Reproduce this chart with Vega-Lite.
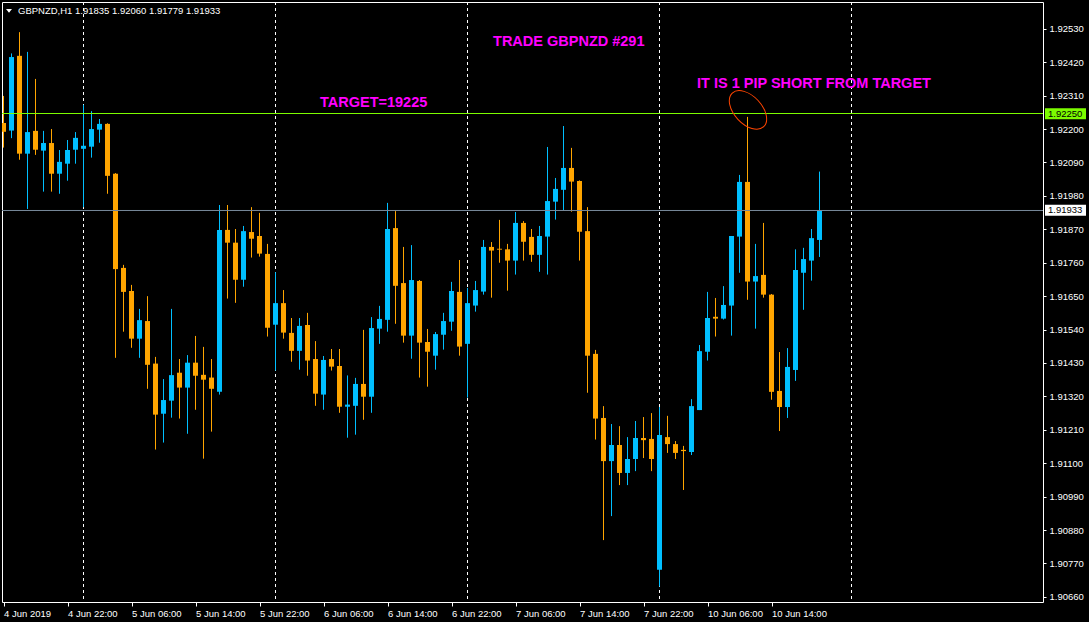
{
  "$schema": "https://vega.github.io/schema/vega-lite/v6.json",
  "width": 1041,
  "height": 600,
  "autosize": {"type": "none"},
  "padding": {"left": 2, "top": 2, "right": 46, "bottom": 20},
  "background": "#000000",
  "config": {
    "view": {"stroke": "#FFFFFF", "strokeWidth": 1, "fill": "#000000"},
    "axisX": {
      "domain": false, "grid": false, "ticks": true,
      "tickColor": "#FFFFFF", "tickSize": 4, "tickWidth": 1,
      "labelColor": "#FFFFFF", "labelFont": "Liberation Sans", "labelFontSize": 9.5,
      "labelAlign": "left", "labelBaseline": "top", "labelPadding": 2,
      "labelOverlap": false, "labelBound": false, "labelFlush": false
    },
    "axisY": {
      "domain": false, "grid": false, "ticks": true,
      "tickColor": "#FFFFFF", "tickSize": 3, "tickWidth": 1,
      "labelColor": "#FFFFFF", "labelFont": "Liberation Sans", "labelFontSize": 9.5,
      "labelPadding": 3, "labelBaseline": "middle", "labelAlign": "left",
      "labelOverlap": false, "labelBound": false, "labelFlush": false
    }
  },
  "datasets": {
    "candles": [
      {"i":0,"o":1.92220,"h":1.92309,"l":1.92139,"c":1.92191},
      {"i":1,"o":1.92195,"h":1.92449,"l":1.92170,"c":1.92437},
      {"i":2,"o":1.92441,"h":1.92519,"l":1.92099,"c":1.92119},
      {"i":3,"o":1.92119,"h":1.92454,"l":1.91937,"c":1.92190},
      {"i":4,"o":1.92194,"h":1.92365,"l":1.92115,"c":1.92132},
      {"i":5,"o":1.92129,"h":1.92194,"l":1.91994,"c":1.92154},
      {"i":6,"o":1.92154,"h":1.92200,"l":1.91994,"c":1.92053},
      {"i":7,"o":1.92053,"h":1.92131,"l":1.91987,"c":1.92092},
      {"i":8,"o":1.92086,"h":1.92164,"l":1.92030,"c":1.92131},
      {"i":9,"o":1.92132,"h":1.92190,"l":1.92086,"c":1.92171},
      {"i":10,"o":1.92135,"h":1.92280,"l":1.91943,"c":1.92145},
      {"i":11,"o":1.92142,"h":1.92259,"l":1.92106,"c":1.92200},
      {"i":12,"o":1.92198,"h":1.92233,"l":1.92155,"c":1.92217},
      {"i":13,"o":1.92217,"h":1.92219,"l":1.91987,"c":1.92046},
      {"i":14,"o":1.92053,"h":1.92055,"l":1.91447,"c":1.91739},
      {"i":15,"o":1.91743,"h":1.91753,"l":1.91533,"c":1.91664},
      {"i":16,"o":1.91667,"h":1.91687,"l":1.91480,"c":1.91510},
      {"i":17,"o":1.91510,"h":1.91608,"l":1.91447,"c":1.91571},
      {"i":18,"o":1.91568,"h":1.91650,"l":1.91345,"c":1.91424},
      {"i":19,"o":1.91428,"h":1.91450,"l":1.91145,"c":1.91260},
      {"i":20,"o":1.91263,"h":1.91377,"l":1.91168,"c":1.91308},
      {"i":21,"o":1.91306,"h":1.91608,"l":1.91250,"c":1.91390},
      {"i":22,"o":1.91398,"h":1.91443,"l":1.91247,"c":1.91349},
      {"i":23,"o":1.91349,"h":1.91456,"l":1.91197,"c":1.91431},
      {"i":24,"o":1.91431,"h":1.91519,"l":1.91276,"c":1.91388},
      {"i":25,"o":1.91391,"h":1.91483,"l":1.91115,"c":1.91375},
      {"i":26,"o":1.91382,"h":1.91443,"l":1.91204,"c":1.91345},
      {"i":27,"o":1.91335,"h":1.91950,"l":1.91326,"c":1.91868},
      {"i":28,"o":1.91868,"h":1.91950,"l":1.91642,"c":1.91826},
      {"i":29,"o":1.91826,"h":1.91871,"l":1.91628,"c":1.91704},
      {"i":30,"o":1.91704,"h":1.91881,"l":1.91681,"c":1.91864},
      {"i":31,"o":1.91861,"h":1.91943,"l":1.91777,"c":1.91839},
      {"i":32,"o":1.91848,"h":1.91924,"l":1.91780,"c":1.91790},
      {"i":33,"o":1.91789,"h":1.91822,"l":1.91517,"c":1.91546},
      {"i":34,"o":1.91556,"h":1.91729,"l":1.91405,"c":1.91627},
      {"i":35,"o":1.91627,"h":1.91670,"l":1.91510,"c":1.91530},
      {"i":36,"o":1.91529,"h":1.91578,"l":1.91434,"c":1.91470},
      {"i":37,"o":1.91470,"h":1.91578,"l":1.91408,"c":1.91552},
      {"i":38,"o":1.91555,"h":1.91595,"l":1.91388,"c":1.91438},
      {"i":39,"o":1.91443,"h":1.91502,"l":1.91289,"c":1.91329},
      {"i":40,"o":1.91326,"h":1.91453,"l":1.91276,"c":1.91440},
      {"i":41,"o":1.91443,"h":1.91476,"l":1.91405,"c":1.91418},
      {"i":42,"o":1.91420,"h":1.91476,"l":1.91266,"c":1.91286},
      {"i":43,"o":1.91286,"h":1.91389,"l":1.91184,"c":1.91293},
      {"i":44,"o":1.91289,"h":1.91381,"l":1.91194,"c":1.91361},
      {"i":45,"o":1.91361,"h":1.91539,"l":1.91243,"c":1.91319},
      {"i":46,"o":1.91319,"h":1.91581,"l":1.91266,"c":1.91545},
      {"i":47,"o":1.91543,"h":1.91618,"l":1.91493,"c":1.91575},
      {"i":48,"o":1.91572,"h":1.91957,"l":1.91533,"c":1.91871},
      {"i":49,"o":1.91874,"h":1.91930,"l":1.91559,"c":1.91684},
      {"i":50,"o":1.91693,"h":1.91812,"l":1.91497,"c":1.91520},
      {"i":51,"o":1.91520,"h":1.91818,"l":1.91444,"c":1.91703},
      {"i":52,"o":1.91700,"h":1.91703,"l":1.91382,"c":1.91497},
      {"i":53,"o":1.91499,"h":1.91542,"l":1.91352,"c":1.91467},
      {"i":54,"o":1.91454,"h":1.91532,"l":1.91408,"c":1.91525},
      {"i":55,"o":1.91523,"h":1.91595,"l":1.91474,"c":1.91568},
      {"i":56,"o":1.91566,"h":1.91697,"l":1.91536,"c":1.91667},
      {"i":57,"o":1.91664,"h":1.91769,"l":1.91454,"c":1.91484},
      {"i":58,"o":1.91493,"h":1.91677,"l":1.91316,"c":1.91627},
      {"i":59,"o":1.91619,"h":1.91700,"l":1.91599,"c":1.91670},
      {"i":60,"o":1.91665,"h":1.91835,"l":1.91655,"c":1.91812},
      {"i":61,"o":1.91812,"h":1.91828,"l":1.91645,"c":1.91800},
      {"i":62,"o":1.91806,"h":1.91901,"l":1.91760,"c":1.91803},
      {"i":63,"o":1.91804,"h":1.91822,"l":1.91668,"c":1.91767},
      {"i":64,"o":1.91767,"h":1.91927,"l":1.91721,"c":1.91891},
      {"i":65,"o":1.91891,"h":1.91897,"l":1.91767,"c":1.91829},
      {"i":66,"o":1.91845,"h":1.91871,"l":1.91763,"c":1.91786},
      {"i":67,"o":1.91786,"h":1.91881,"l":1.91730,"c":1.91848},
      {"i":68,"o":1.91846,"h":1.92141,"l":1.91721,"c":1.91963},
      {"i":69,"o":1.91961,"h":1.92039,"l":1.91902,"c":1.92003},
      {"i":70,"o":1.92000,"h":1.92210,"l":1.91931,"c":1.92072},
      {"i":71,"o":1.92072,"h":1.92138,"l":1.91928,"c":1.92027},
      {"i":72,"o":1.92029,"h":1.92031,"l":1.91767,"c":1.91862},
      {"i":73,"o":1.91864,"h":1.91943,"l":1.91332,"c":1.91454},
      {"i":74,"o":1.91460,"h":1.91473,"l":1.91178,"c":1.91247},
      {"i":75,"o":1.91249,"h":1.91288,"l":1.90847,"c":1.91107},
      {"i":76,"o":1.91107,"h":1.91229,"l":1.90926,"c":1.91160},
      {"i":77,"o":1.91160,"h":1.91222,"l":1.91028,"c":1.91068},
      {"i":78,"o":1.91068,"h":1.91186,"l":1.91028,"c":1.91114},
      {"i":79,"o":1.91114,"h":1.91239,"l":1.91074,"c":1.91183},
      {"i":80,"o":1.91183,"h":1.91252,"l":1.91117,"c":1.91176},
      {"i":81,"o":1.91180,"h":1.91265,"l":1.91074,"c":1.91114},
      {"i":82,"o":1.90749,"h":1.91285,"l":1.90694,"c":1.91193},
      {"i":83,"o":1.91186,"h":1.91256,"l":1.91134,"c":1.91163},
      {"i":84,"o":1.91163,"h":1.91173,"l":1.91114,"c":1.91134},
      {"i":85,"o":1.91144,"h":1.91157,"l":1.91012,"c":1.91140},
      {"i":86,"o":1.91137,"h":1.91311,"l":1.91127,"c":1.91288},
      {"i":87,"o":1.91275,"h":1.91489,"l":1.91275,"c":1.91469},
      {"i":88,"o":1.91467,"h":1.91664,"l":1.91438,"c":1.91578},
      {"i":89,"o":1.91582,"h":1.91644,"l":1.91517,"c":1.91576},
      {"i":90,"o":1.91576,"h":1.91683,"l":1.91573,"c":1.91621},
      {"i":91,"o":1.91619,"h":1.91848,"l":1.91520,"c":1.91848},
      {"i":92,"o":1.91846,"h":1.92049,"l":1.91727,"c":1.92026},
      {"i":93,"o":1.92026,"h":1.92240,"l":1.91638,"c":1.91698},
      {"i":94,"o":1.91698,"h":1.91822,"l":1.91543,"c":1.91716},
      {"i":95,"o":1.91720,"h":1.91891,"l":1.91645,"c":1.91655},
      {"i":96,"o":1.91655,"h":1.91657,"l":1.91309,"c":1.91335},
      {"i":97,"o":1.91338,"h":1.91466,"l":1.91206,"c":1.91285},
      {"i":98,"o":1.91285,"h":1.91479,"l":1.91249,"c":1.91417},
      {"i":99,"o":1.91407,"h":1.91804,"l":1.91371,"c":1.91736},
      {"i":100,"o":1.91727,"h":1.91809,"l":1.91605,"c":1.91772},
      {"i":101,"o":1.91767,"h":1.91871,"l":1.91701,"c":1.91841},
      {"i":102,"o":1.91835,"h":1.92060,"l":1.91779,"c":1.91933}
    ],
    "days": [{"d":10},{"d":34},{"d":58},{"d":82},{"d":106}],
    "levels": [{"p":1.92250,"kind":"target"},{"p":1.91933,"kind":"bid"}],
    "notes": [
      {"x":61.19,"p":1.92473,"t":"TRADE GBPNZD #291"},
      {"x":39.56,"p":1.92274,"t":"TARGET=19225"},
      {"x":86.69,"p":1.92336,"t":"IT IS 1 PIP SHORT FROM TARGET"}
    ]
  },
  "layer": [
    {
      "data": {"name": "days"},
      "mark": {"type": "rule", "color": "#FFFFFF", "strokeDash": [3, 3], "strokeWidth": 1, "clip": true},
      "encoding": {
        "x": {"field": "d", "type": "quantitative", "scale": {"domain": [-0.1875, 129.9375], "nice": false, "zero": false, "padding": 0},
          "axis": {"values": [0, 8, 16, 24, 32, 40, 48, 56, 64, 72, 80, 88, 96], "labelExpr": "['4 Jun 2019','4 Jun 22:00','5 Jun 06:00','5 Jun 14:00','5 Jun 22:00','6 Jun 06:00','6 Jun 14:00','6 Jun 22:00','7 Jun 06:00','7 Jun 14:00','7 Jun 22:00','10 Jun 06:00','10 Jun 14:00'][round(datum.value/8)]", "title": null}}
      }
    },
    {
      "data": {"name": "candles"},
      "mark": {"type": "rule", "strokeWidth": 1, "clip": true},
      "encoding": {
        "x": {"field": "i", "type": "quantitative", "scale": {"domain": [-0.1875, 129.9375], "nice": false, "zero": false, "padding": 0},
          "axis": {"values": [0, 8, 16, 24, 32, 40, 48, 56, 64, 72, 80, 88, 96], "labelExpr": "['4 Jun 2019','4 Jun 22:00','5 Jun 06:00','5 Jun 14:00','5 Jun 22:00','6 Jun 06:00','6 Jun 14:00','6 Jun 22:00','7 Jun 06:00','7 Jun 14:00','7 Jun 22:00','10 Jun 06:00','10 Jun 14:00'][round(datum.value/8)]", "title": null}},
        "y": {"field": "l", "type": "quantitative", "scale": {"domain": [1.90643236, 1.92618216], "nice": false, "zero": false, "padding": 0},
          "axis": {"orient": "right", "values": [1.9066, 1.9077, 1.9088, 1.9099, 1.911, 1.9121, 1.9132, 1.9143, 1.9154, 1.9165, 1.9176, 1.9187, 1.9198, 1.9209, 1.922, 1.9231, 1.9242, 1.9253], "format": ".5f", "title": null}},
        "y2": {"field": "h"},
        "color": {"condition": {"test": "datum.c >= datum.o", "value": "#00BFFF"}, "value": "#FFA500"}
      }
    },
    {
      "data": {"name": "candles"},
      "mark": {"type": "bar", "width": 5, "clip": true},
      "encoding": {
        "x": {"field": "i", "type": "quantitative", "scale": {"domain": [-0.1875, 129.9375], "nice": false, "zero": false, "padding": 0},
          "axis": {"values": [0, 8, 16, 24, 32, 40, 48, 56, 64, 72, 80, 88, 96], "labelExpr": "['4 Jun 2019','4 Jun 22:00','5 Jun 06:00','5 Jun 14:00','5 Jun 22:00','6 Jun 06:00','6 Jun 14:00','6 Jun 22:00','7 Jun 06:00','7 Jun 14:00','7 Jun 22:00','10 Jun 06:00','10 Jun 14:00'][round(datum.value/8)]", "title": null}},
        "y": {"field": "o", "type": "quantitative", "scale": {"domain": [1.90643236, 1.92618216], "nice": false, "zero": false, "padding": 0},
          "axis": {"orient": "right", "values": [1.9066, 1.9077, 1.9088, 1.9099, 1.911, 1.9121, 1.9132, 1.9143, 1.9154, 1.9165, 1.9176, 1.9187, 1.9198, 1.9209, 1.922, 1.9231, 1.9242, 1.9253], "format": ".5f", "title": null}},
        "y2": {"field": "c"},
        "color": {"condition": {"test": "datum.c >= datum.o", "value": "#00BFFF"}, "value": "#FFA500"}
      }
    },
    {
      "data": {"name": "levels"},
      "transform": [{"filter": "datum.kind == 'target'"}],
      "mark": {"type": "rule", "strokeWidth": 1, "color": "#7CFC00", "yOffset": -0.36},
      "encoding": {
        "y": {"field": "p", "type": "quantitative", "scale": {"domain": [1.90643236, 1.92618216], "nice": false, "zero": false, "padding": 0},
          "axis": {"orient": "right", "values": [1.9066, 1.9077, 1.9088, 1.9099, 1.911, 1.9121, 1.9132, 1.9143, 1.9154, 1.9165, 1.9176, 1.9187, 1.9198, 1.9209, 1.922, 1.9231, 1.9242, 1.9253], "format": ".5f", "title": null}}
      }
    },
    {
      "data": {"name": "levels"},
      "transform": [{"filter": "datum.kind == 'bid'"}],
      "mark": {"type": "rule", "strokeWidth": 1, "color": "#778899", "yOffset": 0.33},
      "encoding": {
        "y": {"field": "p", "type": "quantitative", "scale": {"domain": [1.90643236, 1.92618216], "nice": false, "zero": false, "padding": 0},
          "axis": {"orient": "right", "values": [1.9066, 1.9077, 1.9088, 1.9099, 1.911, 1.9121, 1.9132, 1.9143, 1.9154, 1.9165, 1.9176, 1.9187, 1.9198, 1.9209, 1.922, 1.9231, 1.9242, 1.9253], "format": ".5f", "title": null}}
      }
    },
    {
      "data": {"name": "levels"},
      "mark": {"type": "tick", "orient": "vertical", "thickness": 41, "size": 11, "opacity": 1, "clip": false},
      "encoding": {
        "x": {"datum": 132.75, "type": "quantitative", "scale": {"domain": [-0.1875, 129.9375], "nice": false, "zero": false, "padding": 0},
          "axis": {"values": [0, 8, 16, 24, 32, 40, 48, 56, 64, 72, 80, 88, 96], "labelExpr": "['4 Jun 2019','4 Jun 22:00','5 Jun 06:00','5 Jun 14:00','5 Jun 22:00','6 Jun 06:00','6 Jun 14:00','6 Jun 22:00','7 Jun 06:00','7 Jun 14:00','7 Jun 22:00','10 Jun 06:00','10 Jun 14:00'][round(datum.value/8)]", "title": null}},
        "y": {"field": "p", "type": "quantitative", "scale": {"domain": [1.90643236, 1.92618216], "nice": false, "zero": false, "padding": 0},
          "axis": {"orient": "right", "values": [1.9066, 1.9077, 1.9088, 1.9099, 1.911, 1.9121, 1.9132, 1.9143, 1.9154, 1.9165, 1.9176, 1.9187, 1.9198, 1.9209, 1.922, 1.9231, 1.9242, 1.9253], "format": ".5f", "title": null}},
        "color": {"condition": {"test": "datum.kind == 'target'", "value": "#7CFC00"}, "value": "#FFFFFF"}
      }
    },
    {
      "data": {"name": "levels"},
      "mark": {"type": "text", "align": "left", "baseline": "middle", "font": "Liberation Sans", "fontSize": 9.5, "color": "#000000", "clip": false},
      "encoding": {
        "x": {"datum": 130.56, "type": "quantitative", "scale": {"domain": [-0.1875, 129.9375], "nice": false, "zero": false, "padding": 0},
          "axis": {"values": [0, 8, 16, 24, 32, 40, 48, 56, 64, 72, 80, 88, 96], "labelExpr": "['4 Jun 2019','4 Jun 22:00','5 Jun 06:00','5 Jun 14:00','5 Jun 22:00','6 Jun 06:00','6 Jun 14:00','6 Jun 22:00','7 Jun 06:00','7 Jun 14:00','7 Jun 22:00','10 Jun 06:00','10 Jun 14:00'][round(datum.value/8)]", "title": null}},
        "y": {"field": "p", "type": "quantitative", "scale": {"domain": [1.90643236, 1.92618216], "nice": false, "zero": false, "padding": 0},
          "axis": {"orient": "right", "values": [1.9066, 1.9077, 1.9088, 1.9099, 1.911, 1.9121, 1.9132, 1.9143, 1.9154, 1.9165, 1.9176, 1.9187, 1.9198, 1.9209, 1.922, 1.9231, 1.9242, 1.9253], "format": ".5f", "title": null}},
        "text": {"field": "p", "type": "quantitative", "format": ".5f"}
      }
    },
    {
      "data": {"name": "notes"},
      "mark": {"type": "text", "align": "left", "baseline": "alphabetic", "font": "Liberation Sans", "fontWeight": "bold", "fontSize": 14.5, "color": "#FF00FF"},
      "encoding": {
        "x": {"field": "x", "type": "quantitative", "scale": {"domain": [-0.1875, 129.9375], "nice": false, "zero": false, "padding": 0},
          "axis": {"values": [0, 8, 16, 24, 32, 40, 48, 56, 64, 72, 80, 88, 96], "labelExpr": "['4 Jun 2019','4 Jun 22:00','5 Jun 06:00','5 Jun 14:00','5 Jun 22:00','6 Jun 06:00','6 Jun 14:00','6 Jun 22:00','7 Jun 06:00','7 Jun 14:00','7 Jun 22:00','10 Jun 06:00','10 Jun 14:00'][round(datum.value/8)]", "title": null}},
        "y": {"field": "p", "type": "quantitative", "scale": {"domain": [1.90643236, 1.92618216], "nice": false, "zero": false, "padding": 0},
          "axis": {"orient": "right", "values": [1.9066, 1.9077, 1.9088, 1.9099, 1.911, 1.9121, 1.9132, 1.9143, 1.9154, 1.9165, 1.9176, 1.9187, 1.9198, 1.9209, 1.922, 1.9231, 1.9242, 1.9253], "format": ".5f", "title": null}},
        "text": {"field": "t"}
      }
    },
    {
      "data": {"values": [{"x": 1.8125, "p": 1.92579, "t": "GBPNZD,H1  1.91835 1.92060 1.91779 1.91933"}]},
      "mark": {"type": "text", "align": "left", "baseline": "alphabetic", "font": "Liberation Sans", "fontSize": 9.5, "color": "#FFFFFF"},
      "encoding": {
        "x": {"field": "x", "type": "quantitative", "scale": {"domain": [-0.1875, 129.9375], "nice": false, "zero": false, "padding": 0},
          "axis": {"values": [0, 8, 16, 24, 32, 40, 48, 56, 64, 72, 80, 88, 96], "labelExpr": "['4 Jun 2019','4 Jun 22:00','5 Jun 06:00','5 Jun 14:00','5 Jun 22:00','6 Jun 06:00','6 Jun 14:00','6 Jun 22:00','7 Jun 06:00','7 Jun 14:00','7 Jun 22:00','10 Jun 06:00','10 Jun 14:00'][round(datum.value/8)]", "title": null}},
        "y": {"field": "p", "type": "quantitative", "scale": {"domain": [1.90643236, 1.92618216], "nice": false, "zero": false, "padding": 0},
          "axis": {"orient": "right", "values": [1.9066, 1.9077, 1.9088, 1.9099, 1.911, 1.9121, 1.9132, 1.9143, 1.9154, 1.9165, 1.9176, 1.9187, 1.9198, 1.9209, 1.922, 1.9231, 1.9242, 1.9253], "format": ".5f", "title": null}},
        "text": {"field": "t"}
      }
    },
    {
      "data": {"values": [{"x": 0.6875, "p": 1.92589}]},
      "mark": {"type": "point", "shape": "M-1,-0.6L1,-0.6L0,0.6Z", "size": 36, "filled": true, "color": "#FFFFFF", "opacity": 1},
      "encoding": {
        "x": {"field": "x", "type": "quantitative", "scale": {"domain": [-0.1875, 129.9375], "nice": false, "zero": false, "padding": 0},
          "axis": {"values": [0, 8, 16, 24, 32, 40, 48, 56, 64, 72, 80, 88, 96], "labelExpr": "['4 Jun 2019','4 Jun 22:00','5 Jun 06:00','5 Jun 14:00','5 Jun 22:00','6 Jun 06:00','6 Jun 14:00','6 Jun 22:00','7 Jun 06:00','7 Jun 14:00','7 Jun 22:00','10 Jun 06:00','10 Jun 14:00'][round(datum.value/8)]", "title": null}},
        "y": {"field": "p", "type": "quantitative", "scale": {"domain": [1.90643236, 1.92618216], "nice": false, "zero": false, "padding": 0},
          "axis": {"orient": "right", "values": [1.9066, 1.9077, 1.9088, 1.9099, 1.911, 1.9121, 1.9132, 1.9143, 1.9154, 1.9165, 1.9176, 1.9187, 1.9198, 1.9209, 1.922, 1.9231, 1.9242, 1.9253], "format": ".5f", "title": null}}
      }
    },
    {
      "data": {"values": [{"x": 93.06, "p": 1.92263}]},
      "mark": {"type": "point", "shape": "M-1,0A1,0.6,0,1,1,1,0A1,0.6,0,1,1,-1,0Z", "size": 2116, "angle": 47, "filled": false, "stroke": "#FF4500", "strokeWidth": 1, "opacity": 1},
      "encoding": {
        "x": {"field": "x", "type": "quantitative", "scale": {"domain": [-0.1875, 129.9375], "nice": false, "zero": false, "padding": 0},
          "axis": {"values": [0, 8, 16, 24, 32, 40, 48, 56, 64, 72, 80, 88, 96], "labelExpr": "['4 Jun 2019','4 Jun 22:00','5 Jun 06:00','5 Jun 14:00','5 Jun 22:00','6 Jun 06:00','6 Jun 14:00','6 Jun 22:00','7 Jun 06:00','7 Jun 14:00','7 Jun 22:00','10 Jun 06:00','10 Jun 14:00'][round(datum.value/8)]", "title": null}},
        "y": {"field": "p", "type": "quantitative", "scale": {"domain": [1.90643236, 1.92618216], "nice": false, "zero": false, "padding": 0},
          "axis": {"orient": "right", "values": [1.9066, 1.9077, 1.9088, 1.9099, 1.911, 1.9121, 1.9132, 1.9143, 1.9154, 1.9165, 1.9176, 1.9187, 1.9198, 1.9209, 1.922, 1.9231, 1.9242, 1.9253], "format": ".5f", "title": null}}
      }
    }
  ]
}
